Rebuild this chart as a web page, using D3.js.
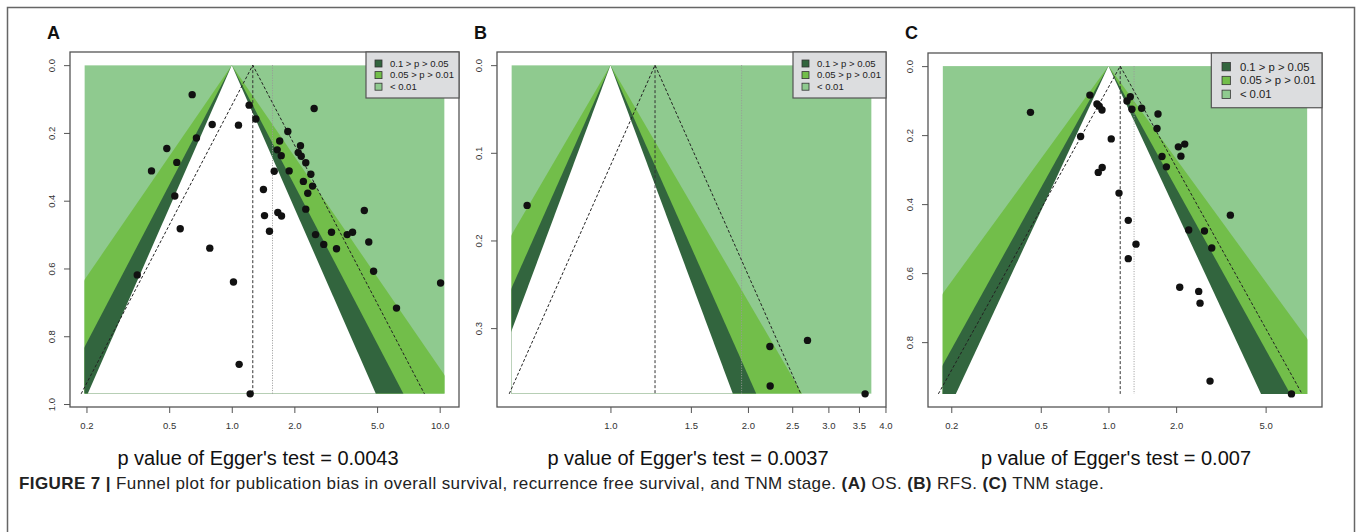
<!DOCTYPE html>
<html>
<head>
<meta charset="utf-8">
<style>
    body { margin: 0; background: #ffffff; }
    text { font-family: "Liberation Sans", Arial, Helvetica, sans-serif; }
</style>
</head>
<body>
<script src="https://cdnjs.cloudflare.com/ajax/libs/d3/7.8.5/d3.min.js"></script>
<script type="text/javascript">
    var svgWidth = 1357, svgHeight = 532;

    // panel A (OS): odds ratio and standard error of each study
    var orA = [0.645, 2.49, 1.212, 1.305, 0.805, 1.077, 1.86, 0.676, 1.70, 0.487,
               2.14, 1.654, 2.087, 1.729, 2.158, 0.544, 2.27, 0.411, 1.60, 1.888,
               2.40, 2.21, 2.446, 1.42, 2.32, 0.532, 2.27, 4.34, 1.437, 1.665,
               1.735, 0.565, 1.518, 2.528, 3.018, 3.59, 3.81, 4.56, 2.77, 3.19,
               0.784, 4.81, 0.351, 1.019, 10.1, 6.20, 1.085, 1.226];
    var seA = [0.087, 0.128, 0.118, 0.159, 0.175, 0.177, 0.196, 0.215, 0.224, 0.246,
               0.238, 0.250, 0.258, 0.267, 0.269, 0.287, 0.288, 0.312, 0.313, 0.312,
               0.322, 0.343, 0.357, 0.367, 0.378, 0.386, 0.425, 0.429, 0.444, 0.435,
               0.445, 0.483, 0.490, 0.500, 0.493, 0.500, 0.493, 0.522, 0.529, 0.542,
               0.540, 0.608, 0.619, 0.640, 0.643, 0.717, 0.883, 0.970];

    // panel B (RFS)
    var orB = [0.657, 2.234, 2.70, 2.237, 3.61];
    var seB = [0.160, 0.321, 0.314, 0.366, 0.375];

    // panel C (TNM stage)
    var orC = [0.450, 0.827, 0.889, 0.910, 0.936, 1.209, 1.251, 1.272, 1.405, 1.661,
               1.644, 0.752, 1.029, 2.046, 2.184, 1.73, 2.10, 1.81, 0.938, 0.901,
               1.114, 3.485, 1.225, 2.275, 2.672, 2.88, 1.326, 1.225, 2.075, 2.52,
               2.555, 2.83, 6.515];
    var seC = [0.134, 0.084, 0.110, 0.116, 0.127, 0.101, 0.089, 0.125, 0.122, 0.139,
               0.181, 0.204, 0.211, 0.234, 0.226, 0.262, 0.261, 0.292, 0.294, 0.308,
               0.368, 0.432, 0.447, 0.475, 0.478, 0.527, 0.516, 0.558, 0.641, 0.653,
               0.687, 0.913, 0.950];

    var panelLabels = ['A', 'B', 'C'];
    var eggerP = ['0.0043', '0.0037', '0.007'];
    var pooledOR = [1.262, 1.252, 1.128];
    var adjustedOR = [1.57, 1.937, 1.30];
    var seMax = [0.97, 0.375, 0.95];
    var xLimits = [[0.1955, 10.56], [0.607, 3.73], [0.183, 7.67]];
    var xTicks = [[0.2, 0.5, 1, 2, 5, 10], [1, 1.5, 2, 2.5, 3, 3.5, 4], [0.2, 0.5, 1, 2, 5]];
    var yTicks = [[0, 0.2, 0.4, 0.6, 0.8, 1.0], [0, 0.1, 0.2, 0.3], [0, 0.2, 0.4, 0.6, 0.8]];
    var legendLabels = ['0.1 > p > 0.05', '0.05 > p > 0.01', '< 0.01'];
    var contourZ = [2.576, 1.96, 1.645];

    var lightGreen = '#8fca8f', midGreen = '#72be4a', darkGreen = '#32653e';
    var legendColors = [darkGreen, midGreen, lightGreen];

    // plot boxes in pixels, legend size factor
    var boxes = [
        { left: 70, right: 459, top: 52, bottom: 407, legend: 1 },
        { left: 497, right: 886, top: 52, bottom: 407, legend: 1 },
        { left: 928, right: 1322, top: 53, bottom: 407, legend: 1.19 }
    ];
    var pTextX = [258, 688, 1116];

    var svg = d3.select('body')
        .append('svg')
        .attr('width', svgWidth)
        .attr('height', svgHeight);

    svg.append('rect')
        .attr('width', svgWidth).attr('height', svgHeight)
        .attr('fill', '#ffffff');

    // outer figure frame
    svg.append('rect')
        .attr('x', 7.5).attr('y', 7.5)
        .attr('width', 1347).attr('height', 600)
        .attr('fill', 'none')
        .attr('stroke', '#666').attr('stroke-width', 1.5);

    var defs = svg.append('defs');
    var seriesOR = [orA, orB, orC];
    var seriesSE = [seA, seB, seC];

    function drawPanel(i) {
        var box = boxes[i];
        var lo = Math.log(xLimits[i][0]), hi = Math.log(xLimits[i][1]);
        var xPad = 0.04 * (hi - lo);
        var xScale = d3.scaleLog()
            .domain([Math.exp(lo - xPad), Math.exp(hi + xPad)])
            .range([box.left, box.right]);
        var yPad = 0.04 * seMax[i];
        var yScale = d3.scaleLinear()
            .domain([-yPad, seMax[i] + yPad])
            .range([box.top, box.bottom]);

        var sx0 = xScale(xLimits[i][0]), sx1 = xScale(xLimits[i][1]);
        var sy0 = yScale(0), sy1 = yScale(seMax[i]);

        defs.append('clipPath').attr('id', 'shade' + i)
            .append('rect')
            .attr('x', sx0).attr('y', sy0)
            .attr('width', sx1 - sx0).attr('height', sy1 - sy0);
        defs.append('clipPath').attr('id', 'box' + i)
            .append('rect')
            .attr('x', box.left).attr('y', box.top)
            .attr('width', box.right - box.left).attr('height', box.bottom - box.top);

        var line = d3.line()
            .x(function (d) { return xScale(Math.exp(d[0])); })
            .y(function (d) { return yScale(d[1]); });

        var shade = svg.append('g').attr('clip-path', 'url(#shade' + i + ')');
        shade.append('rect')
            .attr('x', sx0).attr('y', sy0)
            .attr('width', sx1 - sx0).attr('height', sy1 - sy0)
            .attr('fill', lightGreen);
        var fills = [midGreen, darkGreen, '#ffffff'];
        contourZ.forEach(function (z, k) {
            var w = z * seMax[i];
            shade.append('path')
                .attr('d', line([[0, 0], [-w, seMax[i]], [w, seMax[i]]]) + 'Z')
                .attr('fill', fills[k]);
        });

        var inner = svg.append('g').attr('clip-path', 'url(#box' + i + ')');
        // adjusted estimate (dotted grey) and pooled estimate (dashed)
        inner.append('path')
            .attr('d', line([[Math.log(adjustedOR[i]), 0], [Math.log(adjustedOR[i]), seMax[i]]]))
            .attr('stroke', '#999').attr('stroke-width', 1)
            .attr('stroke-dasharray', '1,1.5').attr('fill', 'none');
        var est = Math.log(pooledOR[i]);
        inner.append('path')
            .attr('d', line([[est, 0], [est, seMax[i]]]))
            .attr('stroke', '#333').attr('stroke-width', 1)
            .attr('stroke-dasharray', '3,2').attr('fill', 'none');
        var ci = 1.96 * seMax[i];
        inner.append('path')
            .attr('d', line([[est - ci, seMax[i]], [est, 0], [est + ci, seMax[i]]]))
            .attr('stroke', '#222').attr('stroke-width', 1)
            .attr('stroke-dasharray', '3,2').attr('fill', 'none');

        inner.selectAll('circle')
            .data(seriesOR[i].map(function (d, k) { return { or: d, se: seriesSE[i][k] }; }))
            .enter()
            .append('circle')
            .attr('cx', function (d) { return xScale(d.or); })
            .attr('cy', function (d) { return yScale(d.se); })
            .attr('r', 3.7)
            .attr('fill', '#111');

        svg.append('rect')
            .attr('x', box.left).attr('y', box.top)
            .attr('width', box.right - box.left).attr('height', box.bottom - box.top)
            .attr('fill', 'none')
            .attr('stroke', '#555').attr('stroke-width', 1.3);

        var xAxis = d3.axisBottom(xScale)
            .tickValues(xTicks[i])
            .tickFormat(d3.format('.1f'))
            .tickSize(6).tickSizeOuter(0).tickPadding(9.5);
        var xg = svg.append('g')
            .attr('transform', 'translate(0,' + box.bottom + ')')
            .call(xAxis);
        xg.select('.domain').remove();
        xg.selectAll('line').attr('stroke', '#555');
        xg.selectAll('text').attr('font-size', 9.5).attr('fill', '#333')
            .style('font-family', '"Liberation Sans", Arial, sans-serif');

        var yAxis = d3.axisLeft(yScale)
            .tickValues(yTicks[i])
            .tickFormat(d3.format('.1f'))
            .tickSize(6).tickSizeOuter(0);
        var yg = svg.append('g')
            .attr('transform', 'translate(' + box.left + ',0)')
            .call(yAxis);
        yg.select('.domain').remove();
        yg.selectAll('line').attr('stroke', '#555');
        yg.selectAll('text')
            .attr('transform', 'rotate(-90)')
            .attr('x', 0).attr('y', -18).attr('dy', '0.35em')
            .attr('text-anchor', 'middle')
            .attr('font-size', 9.5).attr('fill', '#333')
            .style('font-family', '"Liberation Sans", Arial, sans-serif');

        // legend in top right corner
        var s = box.legend;
        var lw = 93 * s, lh = 46 * s;
        var lg = svg.append('g')
            .attr('transform', 'translate(' + (box.right - lw) + ',' + box.top + ')');
        lg.append('rect')
            .attr('width', lw).attr('height', lh)
            .attr('fill', '#dcdddf')
            .attr('stroke', '#555').attr('stroke-width', 1.2);
        legendLabels.forEach(function (t, k) {
            var cy = (11.5 + k * 11.6) * s;
            lg.append('rect')
                .attr('x', 9 * s).attr('y', cy - 3.5 * s)
                .attr('width', 7 * s).attr('height', 7 * s)
                .attr('fill', legendColors[k])
                .attr('stroke', '#333').attr('stroke-width', 0.8);
            lg.append('text')
                .attr('x', 24 * s).attr('y', cy).attr('dy', '0.35em')
                .attr('font-size', 9.5 * s).attr('fill', '#222')
                .text(t);
        });

        svg.append('text')
            .attr('x', box.left - 23).attr('y', 39)
            .attr('font-size', 18).attr('font-weight', 'bold').attr('fill', '#111')
            .text(panelLabels[i]);

        svg.append('text')
            .attr('x', pTextX[i]).attr('y', 465)
            .attr('text-anchor', 'middle')
            .attr('font-size', 20).attr('fill', '#111')
            .text("p value of Egger's test = " + eggerP[i]);
    }

    [0, 1, 2].forEach(drawPanel);

    var caption = svg.append('text')
        .attr('x', 19).attr('y', 489)
        .attr('font-size', 17).attr('fill', '#222')
        .style('letter-spacing', '0.4px');
    caption.append('tspan').attr('font-weight', 'bold').text('FIGURE 7 | ');
    caption.append('tspan').text('Funnel plot for publication bias in overall survival, recurrence free survival, and TNM stage. ');
    caption.append('tspan').attr('font-weight', 'bold').text('(A)');
    caption.append('tspan').text(' OS. ');
    caption.append('tspan').attr('font-weight', 'bold').text('(B)');
    caption.append('tspan').text(' RFS. ');
    caption.append('tspan').attr('font-weight', 'bold').text('(C)');
    caption.append('tspan').text(' TNM stage.');
</script>
</body>
</html>
